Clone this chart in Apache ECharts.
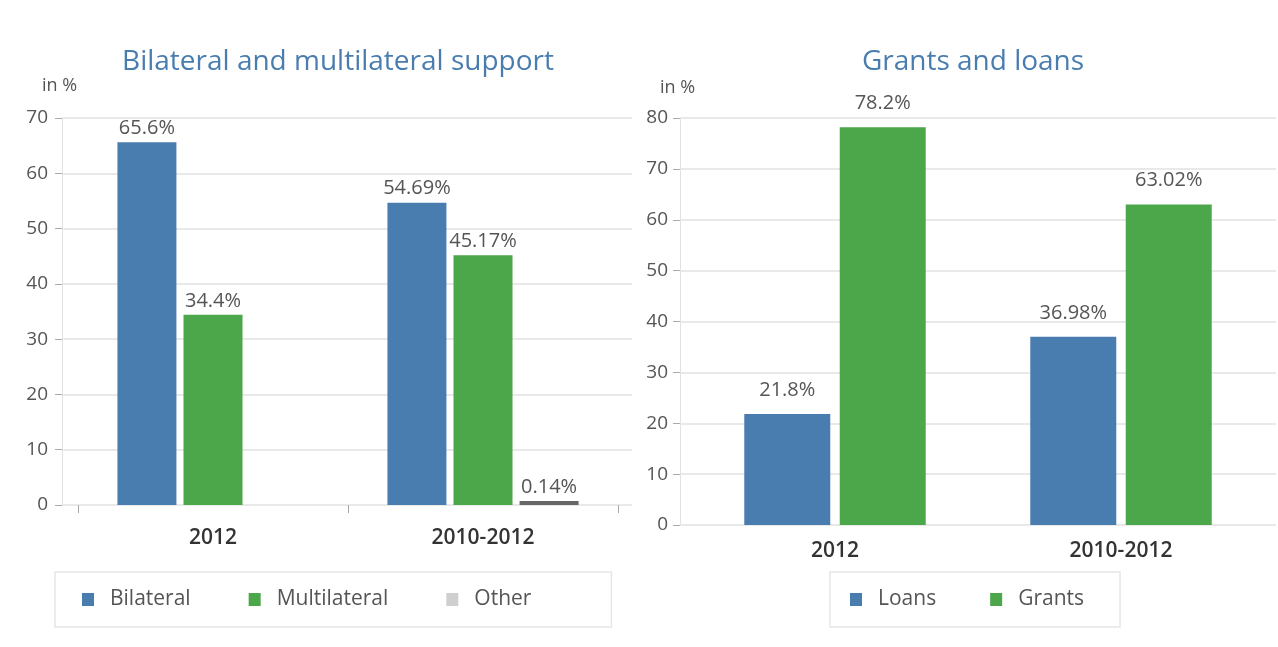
<!DOCTYPE html>
<html>
<head>
<meta charset="utf-8">
<script src="https://cdn.jsdelivr.net/npm/echarts@6/dist/echarts.min.js"></script>
<style>
  html, body { margin: 0; padding: 0; background: #fff; }
  #main { width: 1278px; height: 647px; }
</style>
</head>
<body>
<div id="main"></div>
<script>
// data
const categories = ['2012', '2010-2012'];
const bilateral = [65.6, 54.69];
const multilateral = [34.4, 45.17];
const other = [0, 0.14];
const loans = [21.8, 36.98];
const grants = [78.2, 63.02];

const FONT = '"Open Sans", Lato, sans-serif';
const BLUE = '#4a7daf';
const GREEN = '#4ca64a';
const TXT = '#555';

// bar value label
function valLabel(size, dist) {
  return {
    show: true,
    position: 'top',
    distance: dist,
    color: TXT,
    fontFamily: FONT,
    fontSize: size,
    formatter: p => (p.value === '-' || p.value == null) ? '' : p.value + '%'
  };
}

// value axis that only draws grid lines, ticks and labels
function valueAxis(gridIndex, max, margin) {
  return {
    type: 'value', gridIndex: gridIndex, min: 0, max: max, interval: 10,
    axisLine: {show: true, lineStyle: {color: '#e2e2e2'}},
    axisTick: {show: true, length: 7, lineStyle: {color: '#aaa'}},
    splitLine: {lineStyle: {color: '#e2e2e2', width: 1.5}},
    axisLabel: {color: TXT, fontFamily: FONT, fontSize: 19, margin: margin}
  };
}
// hidden value axis for the bar grids (same scale)
function hiddenValue(gridIndex, max) {
  return {
    type: 'value', gridIndex: gridIndex, min: 0, max: max,
    axisLine: {show: false}, axisTick: {show: false},
    axisLabel: {show: false}, splitLine: {show: false}
  };
}

let chart = echarts.init(document.getElementById('main'));
chart.setOption({
  backgroundColor: '#fff',
  animation: false,
  title: [
    {text: 'Bilateral and multilateral support', left: 333, top: 43, textAlign: 'center',
      textStyle: {color: BLUE, fontFamily: FONT, fontSize: 28, fontWeight: 'normal'}},
    {text: 'Grants and loans', left: 968, top: 43, textAlign: 'center',
      textStyle: {color: BLUE, fontFamily: FONT, fontSize: 28, fontWeight: 'normal'}},
    {text: 'in %', left: 37, top: 72, textStyle: {color: TXT, fontFamily: FONT, fontSize: 18, fontWeight: 'normal'}},
    {text: 'in %', left: 655, top: 74, textStyle: {color: TXT, fontFamily: FONT, fontSize: 18, fontWeight: 'normal'}}
  ],
  legend: [
    {
      data: ['Bilateral', 'Multilateral', {name: 'Other', itemStyle: {color: '#cfcfcf'}}],
      left: 55, top: 572,
      padding: [17, 80, 17, 27],
      borderColor: '#e6e6e6', borderWidth: 1.5,
      icon: 'rect', itemWidth: 12, itemHeight: 13, itemGap: 58,
      textStyle: {color: TXT, fontFamily: FONT, fontSize: 21, padding: [0, 0, 0, 11]}
    },
    {
      data: ['Loans', 'Grants'],
      left: 830, top: 572,
      padding: [17, 36, 17, 20],
      borderColor: '#e6e6e6', borderWidth: 1.5,
      icon: 'rect', itemWidth: 12, itemHeight: 13, itemGap: 54,
      textStyle: {color: TXT, fontFamily: FONT, fontSize: 21, padding: [0, 0, 0, 11]}
    }
  ],
  grid: [
    {left: 62, width: 570, top: 118, bottom: 142},   // left axes
    {left: 78, width: 540, top: 118, bottom: 142},   // left bars
    {left: 680, width: 596, top: 118, bottom: 122},  // right axes
    {left: 692, width: 572, top: 118, bottom: 122}   // right bars
  ],
  xAxis: [
    {type: 'category', gridIndex: 0, data: categories, show: false},
    {type: 'category', gridIndex: 1, data: categories,
      axisLine: {show: false},
      axisTick: {show: true, length: 8, lineStyle: {color: '#aaa'}},
      axisLabel: {color: '#333', fontFamily: FONT, fontSize: 21, fontWeight: 600, margin: 23}},
    {type: 'category', gridIndex: 2, data: categories, show: false},
    {type: 'category', gridIndex: 3, data: categories,
      axisLine: {show: false}, axisTick: {show: false},
      axisLabel: {color: '#333', fontFamily: FONT, fontSize: 21, fontWeight: 600, margin: 16}}
  ],
  yAxis: [
    valueAxis(0, 70, 14),
    hiddenValue(1, 70),
    valueAxis(2, 80, 12),
    hiddenValue(3, 80)
  ],
  series: [
    {name: 'Bilateral', type: 'bar', xAxisIndex: 1, yAxisIndex: 1, data: bilateral,
      barWidth: 59, barGap: '12%', itemStyle: {color: BLUE}, label: valLabel(20, 4)},
    {name: 'Multilateral', type: 'bar', xAxisIndex: 1, yAxisIndex: 1, data: multilateral,
      barWidth: 59, barGap: '12%', itemStyle: {color: GREEN}, label: valLabel(20, 4)},
    {name: 'Other', type: 'bar', xAxisIndex: 1, yAxisIndex: 1,
      data: other.map(v => v === 0 ? '-' : v),
      barWidth: 59, barGap: '12%', barMinHeight: 4, itemStyle: {color: '#666'}, label: valLabel(20, 4)},
    {name: 'Loans', type: 'bar', xAxisIndex: 3, yAxisIndex: 3, data: loans,
      barWidth: 86, barGap: '11%', itemStyle: {color: BLUE}, label: valLabel(20, 14)},
    {name: 'Grants', type: 'bar', xAxisIndex: 3, yAxisIndex: 3, data: grants,
      barWidth: 86, barGap: '11%', itemStyle: {color: GREEN}, label: valLabel(20, 14)}
  ]
});
</script>
</body>
</html>
